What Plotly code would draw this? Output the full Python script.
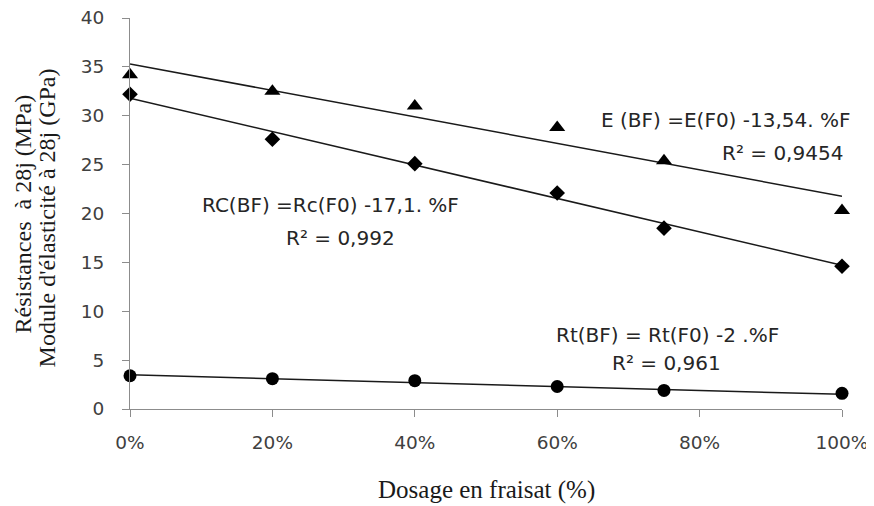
import plotly.graph_objects as go

dosage = [0.0, 0.2, 0.4, 0.6, 0.75, 1.0]
E_vals = [34.2, 32.5, 31.0, 28.8, 25.4, 20.3]
RC_vals = [32.2, 27.6, 25.1, 22.1, 18.5, 14.6]
Rt_vals = [3.4, 3.1, 2.9, 2.3, 1.9, 1.6]

# trend lines (intercept, slope)
E_fit = (35.3, -13.54)
RC_fit = (31.8, -17.1)
Rt_fit = (3.5, -2.0)

x_ticks = [0, 0.2, 0.4, 0.6, 0.8, 1.0]
x_ticklabels = ["0%", "20%", "40%", "60%", "80%", "100%"]
y_ticks = [0, 5, 10, 15, 20, 25, 30, 35, 40]

x_title = "Dosage en fraisat (%)"
y_title_1 = "Résistances  à 28j (MPa)"
y_title_2 = "Module d'élasticité à 28j (GPa)"

fig = go.Figure()

line_x = [dosage[0], dosage[-1]]
for (b, a) in [E_fit, RC_fit, Rt_fit]:
    fig.add_trace(go.Scatter(x=line_x, y=[b + a * line_x[0], b + a * line_x[1]],
                             mode="lines", line=dict(color="#1a1a1a", width=1.5),
                             showlegend=False, hoverinfo="skip"))

fig.add_trace(go.Scatter(x=dosage, y=E_vals, mode="markers",
                         marker=dict(symbol="triangle-up", size=14, color="black"),
                         showlegend=False, cliponaxis=False))
fig.add_trace(go.Scatter(x=dosage, y=RC_vals, mode="markers",
                         marker=dict(symbol="diamond", size=12, color="black"),
                         showlegend=False, cliponaxis=False))
fig.add_trace(go.Scatter(x=dosage, y=Rt_vals, mode="markers",
                         marker=dict(symbol="circle", size=13, color="black"),
                         showlegend=False, cliponaxis=False))

ann_font = dict(family="DejaVu Sans, sans-serif", size=20, color="#262626")
annots = [
    ("E (BF) =E(F0) -13,54. %F", 0.837, 29.6),
    ("R² = 0,9454", 0.916, 26.2),
    ("RC(BF) =Rc(F0) -17,1. %F", 0.281, 20.9),
    ("R² = 0,992", 0.295, 17.5),
    ("Rt(BF) = Rt(F0) -2 .%F", 0.755, 7.6),
    ("R² = 0,961", 0.754, 4.7),
]
for t, x, y in annots:
    fig.add_annotation(text=t, x=x, y=y, xref="x", yref="y", showarrow=False,
                       font=ann_font, xanchor="center", yanchor="middle")

title_font = dict(family="Liberation Serif, Times New Roman, serif", size=24, color="#1a1a1a")
fig.add_annotation(text=y_title_1, x=-0.1503, y=0.5, xref="paper", yref="paper",
                   textangle=-90, showarrow=False, font=title_font,
                   xanchor="center", yanchor="middle")
fig.add_annotation(text=y_title_2, x=-0.1166, y=0.49, xref="paper", yref="paper",
                   textangle=-90, showarrow=False, font=title_font,
                   xanchor="center", yanchor="middle")
fig.add_annotation(text=x_title, x=0.5, y=-0.207, xref="paper", yref="paper",
                   showarrow=False, font=dict(title_font, size=25),
                   xanchor="center", yanchor="middle")

tick_font = dict(family="DejaVu Sans, sans-serif", size=18.5, color="#404040")

# page body has an 8px default margin: figure sized/offset to compensate
fig.update_layout(
    width=866, height=498,
    margin=dict(l=122, r=32, t=10, b=97),
    plot_bgcolor="white", paper_bgcolor="white",
    xaxis=dict(range=[0, 1], tickvals=x_ticks, ticktext=x_ticklabels,
               showgrid=False, zeroline=False, showline=True, linecolor="#8c8c8c",
               linewidth=1, ticks="outside", ticklen=7, tickcolor="#8c8c8c",
               tickfont=tick_font, ticklabelstandoff=10, automargin=False,
               ticklabeloverflow="allow"),
    yaxis=dict(range=[0, 40], tickvals=y_ticks, showgrid=False, zeroline=False,
               showline=True, linecolor="#8c8c8c", linewidth=1, ticks="outside",
               ticklen=7, tickcolor="#8c8c8c", tickfont=tick_font, ticklabelstandoff=14,
               automargin=False, ticklabeloverflow="allow"),
)

fig.write_html("out.html")
